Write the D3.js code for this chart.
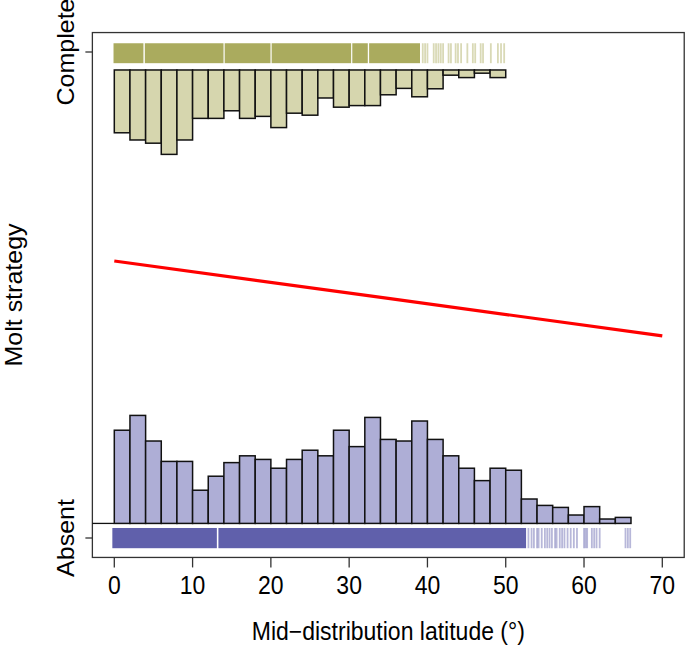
<!DOCTYPE html>
<html>
<head>
<meta charset="utf-8">
<script src="https://cdn.jsdelivr.net/npm/d3@7"></script>
<style>
  html, body { margin: 0; padding: 0; background: #fff; }
  svg { display: block; }
  text { font-family: "Liberation Sans", Arial, Helvetica, sans-serif; fill: #000; }
</style>
</head>
<body>
<svg id="chart" width="685" height="650"></svg>
<script>
// ---------------- data ----------------
const xTicks = [0, 10, 20, 30, 40, 50, 60, 70];
const yCategories = ["Absent", "Complete"];      // coded 0 and 1
const binWidth = 2;                               // degrees latitude per histogram bin
// histogram frequencies (relative units), bins start at 0
const completeFreq = [15.7, 17.5, 18.3, 21.1, 17.5, 12.1, 12.1, 10.2, 12.1, 11.6, 14.4, 10.8, 11.3,
                      7.0, 9.3, 8.9, 8.9, 6.2, 4.6, 6.7, 4.7, 1.3, 1.9, 0.8, 1.9];
const absentFreq = [23.3, 27.0, 20.6, 15.5, 15.5, 8.3, 11.8, 15.2, 16.9, 16.0, 13.8, 16.0, 18.3,
                    16.9, 23.3, 19.2, 26.5, 21.0, 20.6, 25.6, 21.0, 16.9, 13.8, 10.7, 13.8, 13.3,
                    6.1, 4.5, 4.0, 2.1, 4.2, 1.1, 1.5];
// rug: dense (saturated) ranges and individual sparse observations
const completeRugBands = [[-0.1, 3.72], [3.9, 13.95], [14.1, 19.95], [20.1, 30.25], [30.4, 32.38], [32.55, 39.05]];
const completeRugLines = [39.4, 39.7, 40.0, 40.8, 41.1, 41.4, 41.7, 42.0, 42.7, 43.0, 43.6, 43.9, 44.3,
                          45.1, 45.8, 46.1, 46.8, 47.1, 48.1, 49.0, 49.4, 49.8];
const absentRugBands = [[-0.25, 13.1], [13.3, 52.6]];
const absentRugLines = [52.9, 53.3, 53.6, 54.0, 54.2, 54.6, 55.0, 55.3, 55.6, 55.9, 56.3, 56.5, 56.9,
                        57.2, 57.5, 57.9, 58.3, 58.7, 59.1, 60.0, 60.2, 60.4, 61.0, 61.3, 61.6, 62.0,
                        65.3, 65.6, 65.9];
// fitted logistic regression (probability of complete molt)
const fitLat = [0, 35, 70];
const fitProb = [0.570, 0.493, 0.416];

// ---------------- styles ----------------
const colCompleteFill = "#d6d6ae", colCompleteRug = "#aaab5e";
const colAbsentFill = "#aeaed6", colAbsentRug = "#6060ab";
const textScaleX = 0.92, fontSize = 25;

// ---------------- scales ----------------
const svg = d3.select("#chart");
const x = d3.scaleLinear().domain([0, 70]).range([114.3, 662.3]);
const y = d3.scaleLinear().domain([0, 1]).range([538, 52]);
const hScale = d3.scaleLinear().domain([0, 27]).range([0, 108]);
const completeBase = 0.963, absentBase = 0.030;

// box
const bx0 = x(-2.8), bx1 = x(72.8), by0 = y(1.04), by1 = y(-0.04);
svg.append("rect").attr("x", bx0).attr("y", by0).attr("width", bx1 - bx0).attr("height", by1 - by0)
  .attr("fill", "none").attr("stroke", "#333").attr("stroke-width", 1.3);

// rugs
function drawRug(bands, lines, top, bottom, color) {
  const g = svg.append("g");
  g.selectAll("rect.band").data(bands).join("rect")
    .attr("x", d => x(d[0])).attr("width", d => x(d[1]) - x(d[0]))
    .attr("y", y(top)).attr("height", y(bottom) - y(top)).attr("fill", color);
  g.selectAll("line").data(lines).join("line")
    .attr("x1", d => x(d)).attr("x2", d => x(d))
    .attr("y1", y(top)).attr("y2", y(bottom))
    .attr("stroke", color).attr("stroke-opacity", 0.45).attr("stroke-width", 1.8);
}
drawRug(completeRugBands, completeRugLines, 1.018, 0.977, colCompleteRug);
drawRug(absentRugBands, absentRugLines, 0.0206, -0.021, colAbsentRug);

// absent baseline line to the left of bars
svg.append("line").attr("x1", bx0).attr("x2", x(0)).attr("y1", y(absentBase)).attr("y2", y(absentBase))
  .attr("stroke", "#111").attr("stroke-width", 1.3);

// histograms
svg.append("g").selectAll("rect").data(completeFreq).join("rect")
  .attr("x", (d, i) => x(i * binWidth)).attr("width", (d, i) => x((i + 1) * binWidth) - x(i * binWidth))
  .attr("y", y(completeBase)).attr("height", d => hScale(d))
  .attr("fill", colCompleteFill).attr("stroke", "#111").attr("stroke-width", 1.5);
svg.append("g").selectAll("rect").data(absentFreq).join("rect")
  .attr("x", (d, i) => x(i * binWidth)).attr("width", (d, i) => x((i + 1) * binWidth) - x(i * binWidth))
  .attr("y", d => y(absentBase) - hScale(d)).attr("height", d => hScale(d))
  .attr("fill", colAbsentFill).attr("stroke", "#111").attr("stroke-width", 1.5);

// fitted line
svg.append("path").datum(fitLat.map((l, i) => [l, fitProb[i]]))
  .attr("d", d3.line().x(d => x(d[0])).y(d => y(d[1])))
  .attr("fill", "none").attr("stroke", "#ff0000").attr("stroke-width", 3.2);

// x axis ticks
const xAxisG = svg.append("g");
xAxisG.selectAll("line").data(xTicks).join("line")
  .attr("x1", d => x(d)).attr("x2", d => x(d)).attr("y1", by1).attr("y2", by1 + 10)
  .attr("stroke", "#333").attr("stroke-width", 1.3);
xAxisG.selectAll("text").data(xTicks).join("text")
  .attr("transform", d => `translate(${x(d)},594) scale(${textScaleX},1)`)
  .attr("text-anchor", "middle").attr("font-size", fontSize).text(d => d);

// y axis ticks
const yAxisG = svg.append("g");
yAxisG.selectAll("line").data(yCategories).join("line")
  .attr("x1", bx0 - 7).attr("x2", bx0).attr("y1", (d, i) => y(i)).attr("y2", (d, i) => y(i))
  .attr("stroke", "#333").attr("stroke-width", 1.3);
yAxisG.selectAll("text").data(yCategories).join("text")
  .attr("transform", (d, i) => `translate(74,${y(i)}) scale(${textScaleX},1) rotate(-90)`)
  .attr("text-anchor", "middle").attr("font-size", fontSize).text(d => d);

// axis titles
svg.append("text").attr("transform", `translate(${(x(0) + x(70)) / 2},640) scale(${textScaleX},1)`)
  .attr("text-anchor", "middle").attr("font-size", fontSize).text("Mid\u2212distribution latitude (\u00b0)");
svg.append("text").attr("transform", `translate(22,${(y(0) + y(1)) / 2}) scale(${textScaleX},1) rotate(-90)`)
  .attr("text-anchor", "middle").attr("font-size", fontSize).text("Molt strategy");
</script>
</body>
</html>
